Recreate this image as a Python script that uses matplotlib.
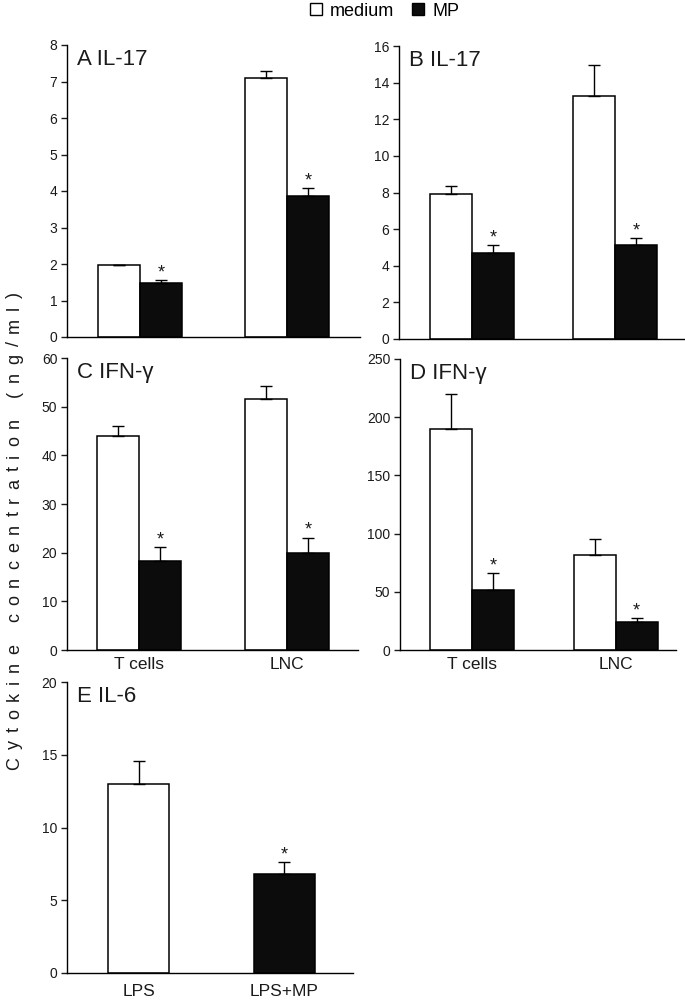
import numpy as np
import matplotlib

matplotlib.use('Agg')
import matplotlib.pyplot as plt
from matplotlib.lines import Line2D

plt.rcParams['font.family'] = ['Liberation Sans', 'DejaVu Sans']

# --- данные ---
groups = ['T cells', 'LNC']

A_medium = [1.98, 7.10]
A_medium_err = [0.0, 0.20]
A_mp = [1.47, 3.86]
A_mp_err = [0.10, 0.23]

B_medium = [7.9, 13.28]
B_medium_err = [0.45, 1.67]
B_mp = [4.68, 5.14]
B_mp_err = [0.46, 0.36]

C_medium = [44.0, 51.5]
C_medium_err = [2.0, 2.8]
C_mp = [18.3, 20.0]
C_mp_err = [2.9, 3.1]

D_medium = [190.0, 82.0]
D_medium_err = [30.0, 13.0]
D_mp = [51.5, 24.3]
D_mp_err = [14.4, 3.0]

E_labels = ['LPS', 'LPS+MP']
E_values = [13.0, 6.8]
E_err = [1.6, 0.8]

W, H = 685, 1001
fig = plt.figure(figsize=(W / 100, H / 100), dpi=100)
TXT = '#1a1a1a'


def make_ax(x0, x1, ytop, ybot):
    """Оси по пиксельным границам (от верхнего левого угла)"""
    ax = fig.add_axes([x0 / W, 1 - ybot / H, (x1 - x0) / W, (ybot - ytop) / H])
    for s in ['top', 'right']:
        ax.spines[s].set_visible(False)
    for s in ['left', 'bottom']:
        ax.spines[s].set_linewidth(1.0)
    ax.tick_params(axis='y', direction='out', length=4, width=1,
                   labelsize=10, pad=3, colors=TXT)
    ax.tick_params(axis='x', length=0)
    return ax


def star(ax, x, y):
    ax.annotate('*', xy=(x, y), xytext=(0, -1), textcoords='offset points',
                ha='center', va='bottom', fontsize=13, color=TXT)


def grouped(ax, med, med_err, mp, mp_err, width, xlim, yticks, title, labels=None):
    x = np.arange(len(med))
    ax.bar(x - width / 2, med, width, color='white', edgecolor='black', linewidth=1.1, zorder=2)
    ax.bar(x + width / 2, mp, width, color='#0c0c0c', edgecolor='black', linewidth=1.1, zorder=2)
    ax.errorbar(x - width / 2, med, yerr=[np.zeros(len(med)), med_err], fmt='none',
                ecolor='black', elinewidth=1, capsize=4, capthick=1, zorder=3)
    ax.errorbar(x + width / 2, mp, yerr=[np.zeros(len(mp)), mp_err], fmt='none',
                ecolor='black', elinewidth=1, capsize=4, capthick=1, zorder=3)
    for xi, v, e in zip(x, mp, mp_err):
        star(ax, xi + width / 2, v + e)
    ax.set_xlim(*xlim)
    ax.set_ylim(yticks[0], yticks[-1])
    ax.set_yticks(yticks)
    if labels is None:
        ax.set_xticks([])
    else:
        ax.set_xticks(x)
        ax.set_xticklabels(labels, fontsize=12.5, color=TXT)
        ax.tick_params(axis='x', pad=5)
    ax.text(10 / ((ax.get_position().width) * W), 0.985, title, transform=ax.transAxes,
            ha='left', va='top', fontsize=16, color=TXT)


axA = make_ax(67, 360, 45, 337)
grouped(axA, A_medium, A_medium_err, A_mp, A_mp_err, 0.286, (-0.497, 1.497),
        np.arange(0, 9, 1), 'A IL-17')

axB = make_ax(399, 685, 46, 339)
grouped(axB, B_medium, B_medium_err, B_mp, B_mp_err, 0.294, (-0.51, 1.49),
        np.arange(0, 17, 2), 'B IL-17')

axC = make_ax(67, 358, 358, 650)
grouped(axC, C_medium, C_medium_err, C_mp, C_mp_err, 0.284, (-0.49, 1.48),
        np.arange(0, 61, 10), 'C IFN-γ', labels=groups)

axD = make_ax(400, 676, 359, 650)
grouped(axD, D_medium, D_medium_err, D_mp, D_mp_err, 0.292, (-0.5, 1.42),
        np.arange(0, 251, 50), 'D IFN-γ', labels=groups)

# панель E
axE = make_ax(67, 353, 682, 973)
xe = np.arange(len(E_values))
axE.bar(xe, E_values, 0.42, color=['white', '#0c0c0c'], edgecolor='black', linewidth=1.1, zorder=2)
axE.errorbar(xe, E_values, yerr=[np.zeros(len(E_values)), E_err], fmt='none',
             ecolor='black', elinewidth=1, capsize=4, capthick=1, zorder=3)
star(axE, xe[1], E_values[1] + E_err[1])
axE.set_xlim(-0.49, 1.47)
axE.set_ylim(0, 20)
axE.set_yticks(np.arange(0, 21, 5))
axE.set_xticks(xe)
axE.set_xticklabels(E_labels, fontsize=12.5, color=TXT)
axE.tick_params(axis='x', pad=8)
axE.text(10 / (axE.get_position().width * W), 0.985, 'E IL-6', transform=axE.transAxes,
         ha='left', va='top', fontsize=16, color=TXT)

# легенда сверху
handles = [
    Line2D([], [], marker='s', ls='none', ms=8, mfc='white', mec='black', mew=1),
    Line2D([], [], marker='s', ls='none', ms=8, mfc='#0c0c0c', mec='black', mew=1),
]
fig.legend(handles, ['medium', 'MP'], loc='center', bbox_to_anchor=(384 / W, 1 - 11 / H),
           ncol=2, frameon=False, fontsize=13, handlelength=0.8, handletextpad=0.4,
           columnspacing=0.9, borderpad=0)

# подпись оси Y с разрядкой букв
ylabel = 'Cytokine concentration (ng/ml)'
YL_SIZE = 13
renderer = fig.canvas.get_renderer()
ws = []
for ch in ylabel:
    t = fig.text(0, 0, ch, fontsize=YL_SIZE)
    ws.append(t.get_window_extent(renderer).width)
    t.remove()
y_low, y_high = H - 770, H - 292
gap = ((y_high - y_low) - sum(ws)) / (len(ylabel) - 1)
pos = y_low
for ch, w in zip(ylabel, ws):
    if ch != ' ':
        fig.text(19 / W, (pos + w / 2) / H, ch, fontsize=YL_SIZE, rotation=90,
                 rotation_mode='anchor', ha='center', va='baseline', color=TXT)
    pos += w + gap

fig.savefig('out.png', dpi=100)
